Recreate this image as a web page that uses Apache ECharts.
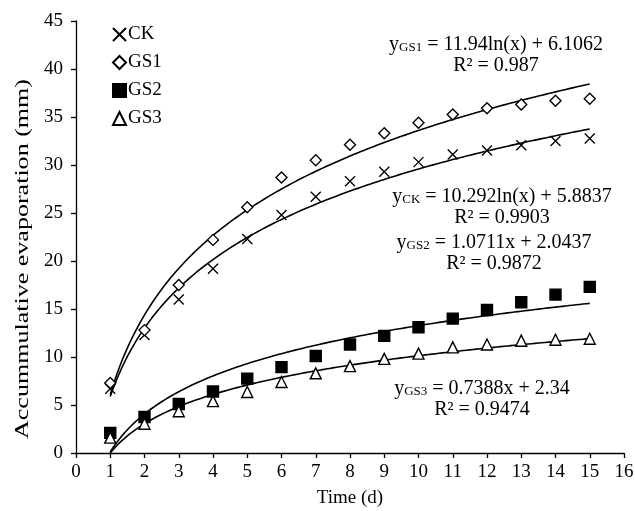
<!DOCTYPE html>
<html>
<head>
<meta charset="utf-8">
<script src="https://cdn.jsdelivr.net/npm/echarts@6/dist/echarts.min.js"></script>
<style>
  html, body { margin: 0; padding: 0; background: #fff; }
  #chart { width: 635px; height: 511px; }
</style>
</head>
<body>
<div id="chart"></div>
<script>
// Days of measurement
const days = [1, 2, 3, 4, 5, 6, 7, 8, 9, 10, 11, 12, 13, 14, 15];

// Accumulative evaporation (mm) per treatment
const ck  = [6.7, 12.3, 16.0, 19.2, 22.3, 24.8, 26.7, 28.3, 29.3, 30.3, 31.1, 31.5, 32.05, 32.5, 32.75];
const gs1 = [7.3, 12.8, 17.5, 22.2, 25.6, 28.7, 30.5, 32.1, 33.3, 34.4, 35.25, 35.9, 36.3, 36.7, 36.9];
const gs2 = [2.1, 3.75, 5.1, 6.4, 7.75, 8.95, 10.1, 11.3, 12.2, 13.1, 14.0, 14.9, 15.7, 16.5, 17.3];
const gs3 = [1.6, 3.05, 4.35, 5.4, 6.35, 7.4, 8.3, 9.05, 9.8, 10.35, 11.0, 11.3, 11.7, 11.8, 11.9];

// Logarithmic trend curves y = a*ln(x) + b
const ckTrend  = { a: 10.292, b: 5.8837 };
const gs1Trend = { a: 11.94,  b: 6.1062 };
const gs2Trend = { a: 5.72,   b: 0.1 };
const gs3Trend = { a: 4.4,    b: 0.0 };

// Axis ticks
const xTicks = { min: 0, max: 16, step: 1 };
const yTicks = { min: 0, max: 45, step: 5 };

// Axis titles
const xTitle = 'Time (d)';
const yTitle = 'Accummulative evaporation (mm)';

// Fitted-equation annotations
const eqGS1 = ['GS1', ' = 11.94ln(x) + 6.1062', 'R² = 0.987'];
const eqCK  = ['CK',  ' = 10.292ln(x) + 5.8837', 'R² = 0.9903'];
const eqGS2 = ['GS2', ' = 1.0711x + 2.0437', 'R² = 0.9872'];
const eqGS3 = ['GS3', ' = 0.7388x + 2.34', 'R² = 0.9474'];

const FONT = '"Liberation Serif", "Times New Roman", serif';
const FS = 19;
const EQ_FS = 20;

function pairs(vals) { return days.map((d, i) => [d, vals[i]]); }

function trendPoints(t) {
  const pts = [];
  for (let k = 0; k <= 140; k++) {
    const x = days[0] + k * (days[days.length - 1] - days[0]) / 140;
    pts.push([x, t.a * Math.log(x) + t.b]);
  }
  return pts;
}

function pointSeries(name, vals, symbol, size, filled) {
  return {
    name, type: 'scatter', data: pairs(vals), symbol, symbolSize: size, z: 3,
    itemStyle: {
      color: filled ? '#000' : '#fff',
      borderColor: '#000',
      borderWidth: 1.4,
      opacity: 1
    }
  };
}

function trendSeries(t) {
  return {
    type: 'line', data: trendPoints(t), showSymbol: false, silent: true, z: 2,
    lineStyle: { color: '#000', width: 1.6 }, clip: true
  };
}

function equation(parts, cx, cy) {
  return [
    {
      type: 'text', x: cx, y: cy,
      style: {
        text: '{m|y}{s|' + parts[0] + '}{m|' + parts[1] + '}',
        align: 'center', verticalAlign: 'middle',
        rich: {
          m: { fontFamily: FONT, fontSize: EQ_FS, fill: '#000', height: 22 },
          s: { fontFamily: FONT, fontSize: 13, fill: '#000', height: 22, padding: [6, 0, 0, 0] }
        }
      }
    },
    {
      type: 'text', x: cx, y: cy + 21,
      style: {
        text: parts[2], fontFamily: FONT, fontSize: EQ_FS, fill: '#000',
        align: 'center', verticalAlign: 'middle'
      }
    }
  ];
}

const chart = echarts.init(document.getElementById('chart'), null, { renderer: 'canvas' });

chart.setOption({
  backgroundColor: '#fff',
  animation: false,
  textStyle: { fontFamily: FONT, color: '#000' },
  grid: { left: 76, right: 11, top: 21, bottom: 58, outerBoundsMode: 'none' },
  legend: {
    orient: 'vertical', left: 107, top: 20, itemGap: 9,
    itemWidth: 13, itemHeight: 13,
    data: ['CK', 'GS1', 'GS2', 'GS3'],
    textStyle: { fontFamily: FONT, fontSize: FS, color: '#000', padding: [0, 0, 0, -3] }
  },
  xAxis: {
    type: 'value', min: xTicks.min, max: xTicks.max, interval: xTicks.step,
    name: xTitle, nameLocation: 'middle', nameGap: 36,
    nameTextStyle: { fontFamily: FONT, fontSize: FS, color: '#000' },
    axisLine: { show: true, lineStyle: { color: '#000', width: 1.3 } },
    axisTick: { show: true, length: 5, lineStyle: { color: '#000', width: 1.3 } },
    axisLabel: { margin: 10, fontFamily: FONT, fontSize: FS, color: '#000' },
    splitLine: { show: false }
  },
  yAxis: {
    type: 'value', min: yTicks.min, max: yTicks.max, interval: yTicks.step,
    axisLine: { show: true, lineStyle: { color: '#000', width: 1.3 } },
    axisTick: { show: true, length: 5, lineStyle: { color: '#000', width: 1.3 } },
    axisLabel: { margin: 13, fontFamily: FONT, fontSize: FS, color: '#000' },
    splitLine: { show: false }
  },
  series: [
    pointSeries('CK', ck, 'path://M0,0L10,10M10,0L0,10', 10, false),
    pointSeries('GS1', gs1, 'diamond', 11, false),
    pointSeries('GS2', gs2, 'rect', 11, true),
    pointSeries('GS3', gs3, 'triangle', 11, false),
    trendSeries(ckTrend),
    trendSeries(gs1Trend),
    trendSeries(gs2Trend),
    trendSeries(gs3Trend)
  ],
  graphic: [].concat(
    [{
      // vertical y-axis title, drawn stretched along its reading direction
      type: 'text', x: 23, y: 259, rotation: Math.PI / 2, scaleX: 1.37,
      style: {
        text: yTitle, fontFamily: FONT, fontSize: FS, fill: '#000',
        align: 'center', verticalAlign: 'middle'
      }
    }],
    equation(eqGS1, 496, 45),
    equation(eqCK, 502, 197),
    equation(eqGS2, 494, 243),
    equation(eqGS3, 482, 389)
  )
});
</script>
</body>
</html>
